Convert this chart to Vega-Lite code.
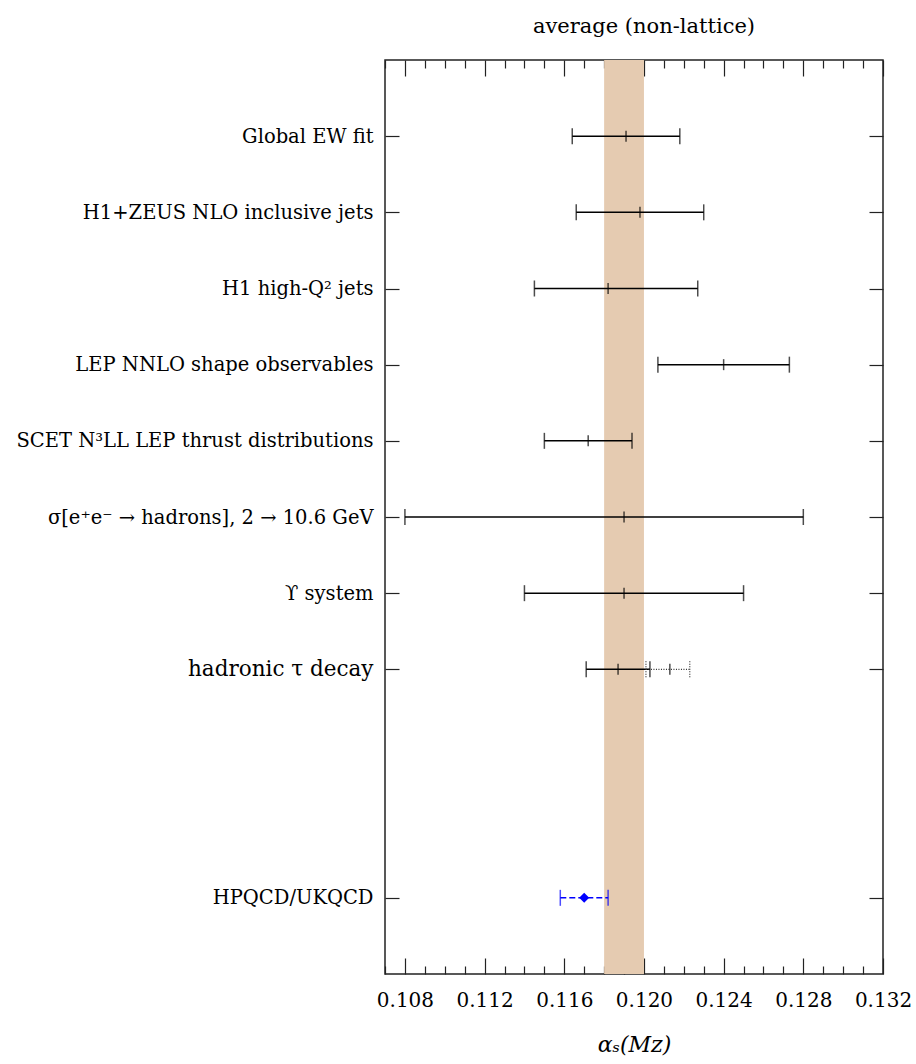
{
  "$schema": "https://vega.github.io/schema/vega-lite/v6.json",
  "width": 498,
  "height": 914,
  "autosize": "none",
  "padding": {"left": 385, "top": 60, "right": 33, "bottom": 90},
  "background": "white",
  "config": {
    "view": {"stroke": "#222222", "strokeWidth": 1.5},
    "axis": {"domain": false, "grid": false, "tickColor": "#222222", "tickWidth": 1.2, "labelColor": "black", "titleColor": "black", "labelFont": "DejaVu Serif", "titleFont": "DejaVu Serif", "labelLimit": 0}
  },
  "title": {"text": "average (non-lattice)", "font": "DejaVu Serif", "fontSize": 21, "fontWeight": "normal", "color": "black", "offset": 22, "dx": 10},
  "datasets": {
    "band": [{"lo": 0.118, "hi": 0.120}],
    "meas": [
      {"label": "Global EW fit", "pos": 11, "center": 0.1191, "lo": 0.1164, "hi": 0.1218},
      {"label": "H1+ZEUS NLO inclusive jets", "pos": 10, "center": 0.1198, "lo": 0.1166, "hi": 0.1230},
      {"label": "H1 high-Q² jets", "pos": 9, "center": 0.1182, "lo": 0.1145, "hi": 0.1227},
      {"label": "LEP NNLO shape observables", "pos": 8, "center": 0.1240, "lo": 0.1207, "hi": 0.1273},
      {"label": "SCET N³LL LEP thrust distributions", "pos": 7, "center": 0.1172, "lo": 0.1150, "hi": 0.1194},
      {"label": "σ[e⁺e⁻ → hadrons], 2 → 10.6 GeV", "pos": 6, "center": 0.1190, "lo": 0.1080, "hi": 0.1280},
      {"label": "ϒ system", "pos": 5, "center": 0.1190, "lo": 0.1140, "hi": 0.1250},
      {"label": "hadronic τ decay", "pos": 4, "center": 0.1187, "lo": 0.1171, "hi": 0.1203}
    ],
    "tau2": [{"label": "hadronic τ decay (alt)", "pos": 4, "center": 0.1213, "lo": 0.1201, "hi": 0.1223}],
    "lat": [{"label": "HPQCD/UKQCD", "pos": 1, "center": 0.1170, "lo": 0.1158, "hi": 0.1182}]
  },
  "resolve": {"axis": {"x": "independent", "y": "independent"}},
  "layer": [
    {
      "data": {"name": "band"},
      "mark": {"type": "rect", "color": "#e5cbb1"},
      "encoding": {
        "x": {
          "field": "lo", "type": "quantitative",
          "scale": {"domain": [0.107, 0.132], "nice": false, "zero": false},
          "axis": {
            "orient": "bottom",
            "values": [0.107, 0.108, 0.109, 0.110, 0.111, 0.112, 0.113, 0.114, 0.115, 0.116, 0.117, 0.118, 0.119, 0.120, 0.121, 0.122, 0.123, 0.124, 0.125, 0.126, 0.127, 0.128, 0.129, 0.130, 0.131, 0.132],
            "labelExpr": "round(datum.value*1000) % 4 == 0 ? format(datum.value, '.3f') : ''",
            "tickSize": {"condition": {"test": "round(datum.value*1000) % 4 == 0", "value": -16}, "value": -8},
            "labelFontSize": 20,
            "labelPadding": 32,
            "labelFlush": false,
            "labelOverlap": false,
            "title": "αₛ(Mᴢ)",
            "titleFontSize": 22,
            "titleFontWeight": "normal",
            "titleFontStyle": "italic",
            "titlePadding": 16
          }
        },
        "x2": {"field": "hi"}
      }
    },
    {
      "data": {"name": "meas"},
      "mark": {"type": "rule", "color": "black", "strokeWidth": 1.5},
      "encoding": {
        "x": {
          "field": "lo", "type": "quantitative",
          "axis": {
            "orient": "top",
            "values": [0.107, 0.108, 0.109, 0.110, 0.111, 0.112, 0.113, 0.114, 0.115, 0.116, 0.117, 0.118, 0.119, 0.120, 0.121, 0.122, 0.123, 0.124, 0.125, 0.126, 0.127, 0.128, 0.129, 0.130, 0.131, 0.132],
            "labels": false,
            "title": null,
            "tickSize": {"condition": {"test": "round(datum.value*1000) % 4 == 0", "value": -16}, "value": -8}
          }
        },
        "x2": {"field": "hi"},
        "y": {
          "field": "pos", "type": "quantitative",
          "scale": {"domain": [0, 12], "nice": false, "zero": false},
          "axis": {
            "orient": "left",
            "values": [1, 4, 5, 6, 7, 8, 9, 10, 11],
            "labelExpr": "datum.value == 11 ? 'Global EW fit' : datum.value == 10 ? 'H1+ZEUS NLO inclusive jets' : datum.value == 9 ? 'H1 high-Q² jets' : datum.value == 8 ? 'LEP NNLO shape observables' : datum.value == 7 ? 'SCET N³LL LEP thrust distributions' : datum.value == 6 ? 'σ[e⁺e⁻ → hadrons], 2 → 10.6 GeV' : datum.value == 5 ? 'ϒ system' : datum.value == 4 ? 'hadronic τ decay' : 'HPQCD/UKQCD'",
            "labelFontSize": {"condition": {"test": "datum.value == 4", "value": 21.5}, "value": 19.5},
            "tickSize": -14,
            "labelPadding": 26,
            "title": null
          }
        }
      }
    },
    {
      "data": {"name": "meas"},
      "mark": {"type": "tick", "orient": "vertical", "color": "black", "size": 16, "thickness": 1.5},
      "encoding": {
        "x": {"field": "lo", "type": "quantitative", "axis": null},
        "y": {
          "field": "pos", "type": "quantitative",
          "axis": {
            "orient": "right",
            "values": [1, 4, 5, 6, 7, 8, 9, 10, 11],
            "labels": false,
            "tickSize": -14,
            "title": null
          }
        }
      }
    },
    {
      "data": {"name": "meas"},
      "mark": {"type": "tick", "orient": "vertical", "color": "black", "size": 16, "thickness": 1.5},
      "encoding": {
        "x": {"field": "hi", "type": "quantitative", "axis": null},
        "y": {"field": "pos", "type": "quantitative", "axis": null}
      }
    },
    {
      "data": {"name": "meas"},
      "mark": {"type": "tick", "orient": "vertical", "color": "black", "size": 11, "thickness": 1.5},
      "encoding": {
        "x": {"field": "center", "type": "quantitative", "axis": null},
        "y": {"field": "pos", "type": "quantitative", "axis": null}
      }
    },
    {
      "data": {"name": "tau2"},
      "mark": {"type": "rule", "color": "#333333", "strokeWidth": 1.2, "strokeDash": [1, 1.5]},
      "encoding": {
        "x": {"field": "lo", "type": "quantitative", "axis": null},
        "x2": {"field": "hi"},
        "y": {"field": "pos", "type": "quantitative", "axis": null}
      }
    },
    {
      "data": {"name": "tau2"},
      "mark": {"type": "point", "shape": "M0,-1L0,1", "filled": false, "color": "#333333", "strokeWidth": 1.2, "strokeDash": [1, 1.5], "size": 256, "opacity": 1},
      "encoding": {
        "x": {"field": "lo", "type": "quantitative", "axis": null},
        "y": {"field": "pos", "type": "quantitative", "axis": null}
      }
    },
    {
      "data": {"name": "tau2"},
      "mark": {"type": "point", "shape": "M0,-1L0,1", "filled": false, "color": "#333333", "strokeWidth": 1.2, "strokeDash": [1, 1.5], "size": 256, "opacity": 1},
      "encoding": {
        "x": {"field": "hi", "type": "quantitative", "axis": null},
        "y": {"field": "pos", "type": "quantitative", "axis": null}
      }
    },
    {
      "data": {"name": "tau2"},
      "mark": {"type": "tick", "orient": "vertical", "color": "black", "size": 11, "thickness": 1.5},
      "encoding": {
        "x": {"field": "center", "type": "quantitative", "axis": null},
        "y": {"field": "pos", "type": "quantitative", "axis": null}
      }
    },
    {
      "data": {"name": "lat"},
      "mark": {"type": "rule", "color": "#0000ff", "strokeWidth": 1.5, "strokeDash": [6, 3]},
      "encoding": {
        "x": {"field": "lo", "type": "quantitative", "axis": null},
        "x2": {"field": "hi"},
        "y": {"field": "pos", "type": "quantitative", "axis": null}
      }
    },
    {
      "data": {"name": "lat"},
      "mark": {"type": "tick", "orient": "vertical", "color": "#0000ff", "size": 16, "thickness": 1.5},
      "encoding": {
        "x": {"field": "lo", "type": "quantitative", "axis": null},
        "y": {"field": "pos", "type": "quantitative", "axis": null}
      }
    },
    {
      "data": {"name": "lat"},
      "mark": {"type": "tick", "orient": "vertical", "color": "#0000ff", "size": 16, "thickness": 1.5},
      "encoding": {
        "x": {"field": "hi", "type": "quantitative", "axis": null},
        "y": {"field": "pos", "type": "quantitative", "axis": null}
      }
    },
    {
      "data": {"name": "lat"},
      "mark": {"type": "point", "shape": "diamond", "filled": true, "color": "#0000ff", "size": 100, "opacity": 1},
      "encoding": {
        "x": {"field": "center", "type": "quantitative", "axis": null},
        "y": {"field": "pos", "type": "quantitative", "axis": null}
      }
    }
  ]
}
